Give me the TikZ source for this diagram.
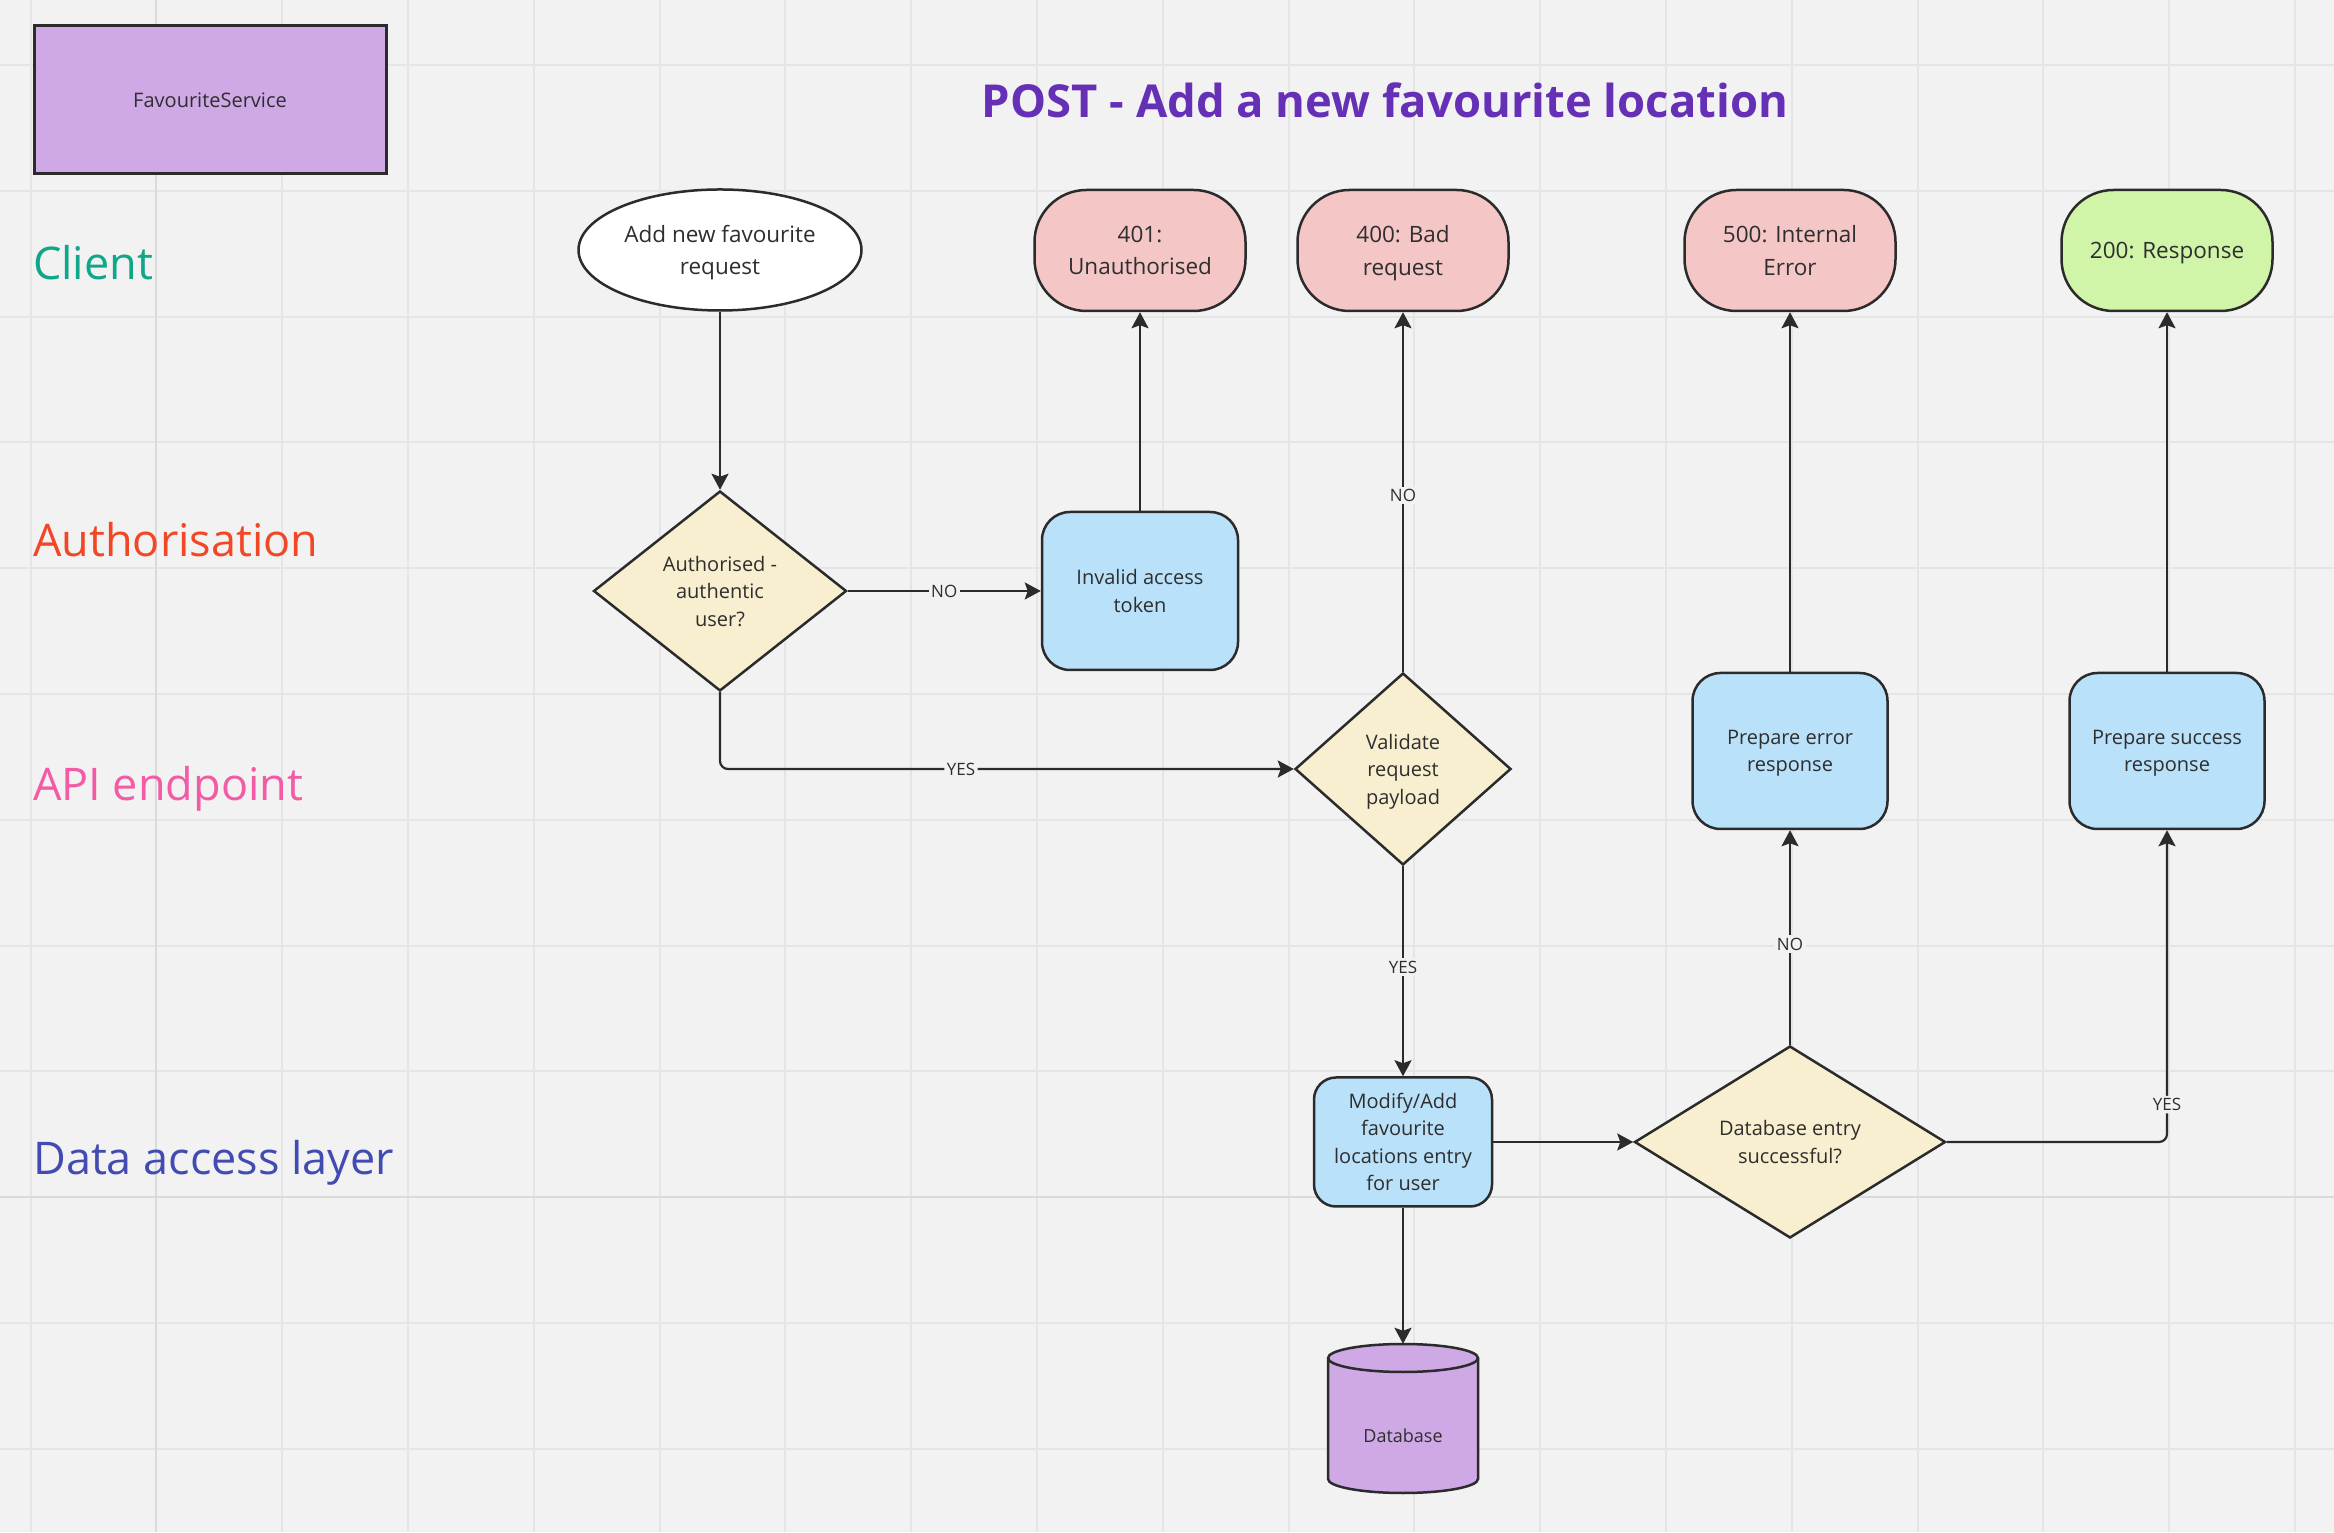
\documentclass[tikz,border=0pt]{standalone}
\usepackage{fontspec}
\setmainfont{Open Sans}
\usetikzlibrary{shapes.geometric,arrows.meta}
\definecolor{bg}{HTML}{F2F2F2}
\definecolor{gridc}{HTML}{E5E5E5}
\definecolor{gridd}{HTML}{DADADA}
\definecolor{edgec}{HTML}{2B2B2B}
\definecolor{txt}{HTML}{2E2E2E}
\definecolor{pinkc}{HTML}{F5C6C6}
\definecolor{greenc}{HTML}{D0F4A8}
\definecolor{bluec}{HTML}{B9E1FA}
\definecolor{yelc}{HTML}{F8EFD0}
\definecolor{purpc}{HTML}{CFA8E6}
\definecolor{titlec}{HTML}{652FB6}
\definecolor{clientc}{HTML}{0FA68A}
\definecolor{authc}{HTML}{F24726}
\definecolor{apic}{HTML}{F35BA5}
\definecolor{datac}{HTML}{414BB2}
\tikzset{
  shapebox/.style={draw=edgec, line width=2.5pt, text=txt, align=center, inner sep=0pt,
    text depth=0pt, font=\fontsize{20}{27.5}\selectfont},
  termbox/.style={shapebox, fill=pinkc, rounded corners=52pt, minimum width=211pt,
    minimum height=121pt, font=\fontsize{22.5}{32.7}\selectfont},
  procbox/.style={shapebox, fill=bluec, rounded corners=28pt, minimum width=196pt, minimum height=158pt},
  decbox/.style={shapebox, diamond, fill=yelc},
  lane/.style={anchor=base west, inner sep=0pt, font=\fontsize{45}{50}\selectfont},
  conn/.style={draw=edgec, line width=2.2pt, -{Stealth[length=16pt,width=17pt,inset=3pt]}},
  lbl/.style={fill=bg, inner sep=2.5pt, text=txt, font=\fontsize{17}{20}\selectfont}
}
\begin{document}
\begin{tikzpicture}[x=1pt,y=1pt]
\useasboundingbox (0,0) rectangle (2334,1532);
\fill[bg] (0,0) rectangle (2334,1532);
% grid
\foreach \i in {0,...,18} \draw[gridc, line width=2pt] ({30.6+125.8*\i},0) -- ++(0,1532);
\foreach \j in {0,...,11} \draw[gridc, line width=2pt] (0,{1467-125.8*\j}) -- ++(2334,0);
\draw[gridd, line width=2pt] (156.4,0) -- (156.4,1532);
\draw[gridd, line width=2pt] (0,334.8) -- (2334,334.8);

% header
\node[draw=edgec, line width=3pt, fill=purpc, minimum width=352pt, minimum height=148pt,
  text=txt, font=\fontsize{20}{24}\selectfont] (fs) at (210,1432) {FavouriteService};
\node[text=titlec, font=\bfseries\fontsize{45.4}{50}\selectfont] (title) at (1385,1432)
  {POST - Add a new favourite location};

% lanes
\node[lane, text=clientc] (lclient) at (33,1252) {Client};
\node[lane, text=authc] (lauth) at (33,975) {Authorisation};
\node[lane, text=apic] (lapi) at (33,731.5) {API endpoint};
\node[lane, text=datac] (ldata) at (33,357.5) {Data access layer};

% client row
\node[shapebox, ellipse, fill=white, minimum width=283pt, minimum height=121pt,
  font=\fontsize{22.5}{32.7}\selectfont] (start) at (720,1282) {Add new favourite\\request};
\node[termbox] (e401) at (1140,1281.5) {401:\\Unauthorised};
\node[termbox] (e400) at (1403,1281.5) {400: Bad\\request};
\node[termbox] (e500) at (1790,1281.5) {500: Internal\\Error};
\node[termbox, fill=greenc] (e200) at (2167,1281.5) {200: Response};

% authorisation row
\node[decbox, minimum width=253pt, minimum height=200pt] (auth) at (720,941)
  {Authorised -\\authentic\\user?};
\node[procbox] (inv) at (1140,941) {Invalid access\\token};

% api row
\node[decbox, minimum width=216pt, minimum height=192pt] (val) at (1403,763)
  {Validate\\request\\payload};
\node[procbox, minimum width=195pt, minimum height=156pt] (perr) at (1790,781)
  {Prepare error\\response};
\node[procbox, minimum width=195pt, minimum height=156pt] (psucc) at (2167,781)
  {Prepare success\\response};

% data row
\node[procbox, rounded corners=22pt, minimum width=178pt, minimum height=129pt] (mod) at (1403,390)
  {Modify/Add\\favourite\\locations entry\\for user};
\node[decbox, minimum width=311pt, minimum height=192pt] (dbok) at (1790,390)
  {Database entry\\successful?};

% database cylinder
\draw[fill=purpc, draw=edgec, line width=2.5pt] (1328,174) -- (1328,53)
  arc[start angle=180, end angle=360, x radius=75pt, y radius=14pt] -- (1478,174)
  arc[start angle=0, end angle=180, x radius=75pt, y radius=14pt] -- cycle;
\draw[draw=edgec, line width=2.5pt] (1328,174)
  arc[start angle=180, end angle=360, x radius=75pt, y radius=14pt];
\node[minimum width=150pt, minimum height=149pt, inner sep=0pt, text=txt,
  text height=47.5pt, text depth=0pt,
  font=\fontsize{18}{22}\selectfont] (db) at (1403,113.5) {Database};

% connectors
\draw[conn] (start) -- (auth);
\draw[conn] (auth) -- node[lbl] {NO} (inv);
\draw[conn] (inv) -- (e401);
\draw[conn, rounded corners=8pt] (auth.south) |- node[lbl, pos=0.71] {YES} (val.west);
\draw[conn] (val) -- node[lbl, pos=0.49] {NO} (e400);
\draw[conn] (val) -- node[lbl, pos=0.48] {YES} (mod);
\draw[conn] (mod) -- (dbok);
\draw[conn] (mod) -- (db);
\draw[conn] (dbok) -- node[lbl, pos=0.47] {NO} (perr);
\draw[conn, rounded corners=8pt] (dbok.east) -| node[lbl, pos=0.56] {YES} (psucc.south);
\draw[conn] (perr) -- (e500);
\draw[conn] (psucc) -- (e200);
\end{tikzpicture}
\end{document}
